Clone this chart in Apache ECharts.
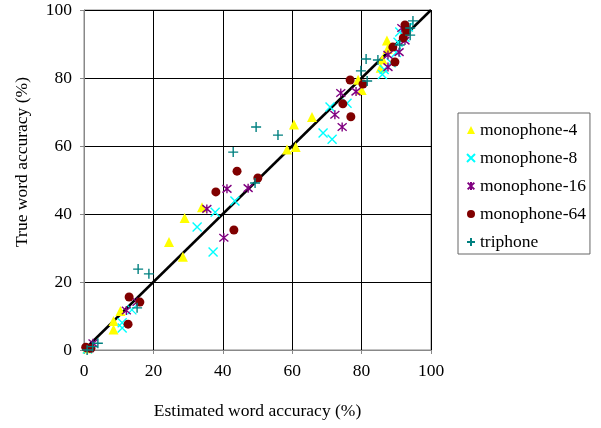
<!DOCTYPE html>
<html><head><meta charset="utf-8">
<script src="https://cdn.jsdelivr.net/npm/echarts@6/dist/echarts.min.js"></script>
<style>html,body{margin:0;padding:0;background:#fff}#c{width:601px;height:428px}</style>
</head><body><div id="c"></div>
<script>
var seriesNames = ['monophone-4','monophone-8','monophone-16','monophone-64','triphone'];
var mono4 = [[1,0.5],[8.5,8.5],[8.5,6],[10.5,11.5],[24.5,31.8],[28.5,27.4],[29,38.8],[34,42],[58.5,59],[61,59.7],[60.5,66.3],[65.7,68.5],[79,79.5],[80,76.5],[85.5,83],[86,85.5],[87.3,91],[87.5,88.5]];
var mono8 = [[1,0.3],[11,8],[11,6.5],[13.8,11.8],[32.6,36.2],[37.2,28.8],[37.8,40.5],[43.5,43.8],[68.9,63.8],[70.9,71.5],[71.5,62],[75.8,72.6],[86,81],[86.5,82.5],[88.5,84.5],[90,87.5],[90.5,90.5],[91,93.5],[92.5,92],[93.5,95]];
var mono16 = [[1.5,0.5],[2.6,2],[12.2,11.6],[15.3,14.1],[35.4,41.5],[40.3,33],[41.2,47.4],[47.3,47.6],[72.3,69.2],[74.4,65.6],[74,75.6],[78.4,76],[87.6,83.2],[87.6,86.8],[90.8,87.6],[91.6,94.7],[92.5,91]];
var mono64 = [[0.5,0.8],[2,0.5],[13,15.6],[16.1,14.1],[12.7,7.6],[38,46.5],[43.2,35.3],[44.1,52.6],[50.1,50.6],[74.6,72.4],[76.9,68.6],[76.7,79.4],[80.4,78.2],[89,89.1],[89.6,84.7],[92,91.8],[92.5,95.6],[93,93.5],[92.8,94.5]];
var triphone = [[0.9,0],[2.5,1],[4,2],[15.3,12.4],[15.6,23.8],[18.7,22.4],[43,58.2],[49.3,49.1],[49.6,65.6],[55.9,63.2],[79.8,82.1],[81.3,85.6],[81.6,79.1],[84.7,85.3],[91,89.7],[94,92.6],[94,94.7],[94.8,96.8]];
var diagonal = [[0,0],[100,100]];
var axisTicks = [0,20,40,60,80,100];

var FONT = 'Liberation Serif';
var chart = echarts.init(document.getElementById('c'), null, {renderer:'canvas'});
function strokeSeries(name, data, path, color, size){
  return {name:name, type:'scatter', data:data, symbol:path, symbolSize:size,
    itemStyle:{color:'rgba(0,0,0,0)', borderColor:color, borderWidth:1.4, opacity:1}, z:3};
}
chart.setOption({
  animation:false,
  grid:{left:84, top:10, right:170, bottom:78, show:true, borderColor:'#888', borderWidth:1},
  xAxis:{type:'value', min:axisTicks[0], max:axisTicks[axisTicks.length-1], interval:20,
    name:'Estimated word accuracy (%)', nameLocation:'middle', nameGap:52,
    nameTextStyle:{fontFamily:FONT, fontSize:17.5, color:'#000'},
    axisLine:{lineStyle:{color:'#888', width:1}}, axisTick:{show:true, length:4, lineStyle:{color:'#888'}},
    axisLabel:{fontFamily:FONT, fontSize:17.5, color:'#000', margin:12},
    splitLine:{lineStyle:{color:'#000', width:1}}},
  yAxis:{type:'value', min:axisTicks[0], max:axisTicks[axisTicks.length-1], interval:20,
    axisLine:{show:true, lineStyle:{color:'#888', width:1}}, axisTick:{show:true, length:4, lineStyle:{color:'#888'}},
    axisLabel:{fontFamily:FONT, fontSize:17.5, color:'#000', margin:12},
    splitLine:{lineStyle:{color:'#000', width:1}}},
  legend:{data:seriesNames, orient:'vertical', left:458, top:113,
    padding:[7,4,2,8], itemGap:8, itemWidth:8, itemHeight:8, borderColor:'#666', borderWidth:1,
    textStyle:{fontFamily:FONT, fontSize:17.5, color:'#000', height:20, lineHeight:20}},
  graphic:[{type:'text', x:22, y:162, rotation:Math.PI/2,
    style:{text:'True word accuracy (%)', font:'17.5px "Liberation Serif"', fill:'#000', align:'center', verticalAlign:'middle'}}],
  series:[
    {name:'diag', type:'line', data:diagonal, symbol:'none', lineStyle:{color:'#000', width:2.5}, z:2, silent:true},
    {name:'monophone-4', type:'scatter', data:mono4, symbol:'triangle', symbolSize:10, itemStyle:{color:'#FFFF00', opacity:1}, z:3},
    strokeSeries('monophone-8', mono8, 'path://M0,0L10,10M10,0L0,10', '#00FFFF', 9),
    strokeSeries('monophone-16', mono16, 'path://M0,0L10,10M10,0L0,10M5,-1L5,11', '#800080', 9),
    {name:'monophone-64', type:'scatter', data:mono64, symbol:'circle', symbolSize:9, itemStyle:{color:'#800000', opacity:1}, z:3},
    strokeSeries('triphone', triphone, 'path://M5,0L5,10M0,5L10,5', '#008080', 10)
  ]
});
</script></body></html>
